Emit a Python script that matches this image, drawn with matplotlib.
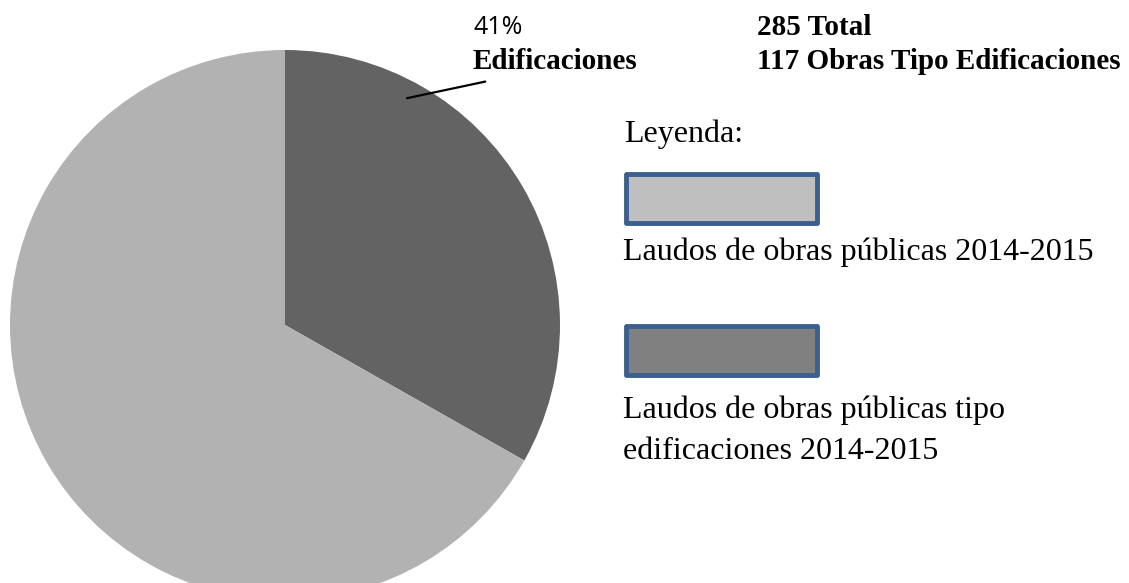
import numpy as np
import matplotlib
matplotlib.use("Agg")
import matplotlib.pyplot as plt
from matplotlib.patches import Rectangle

# texts
total_obras = 285
obras_edificaciones = 117
pct_label = "41%"
# wedge shares as drawn in the picture (edificaciones, resto)
wedge_shares = [33.2, 66.8]
wedge_colors = ["#636363", "#b2b2b2"]

legend_labels = [["Laudos de obras públicas 2014-2015"],
                 ["Laudos de obras públicas tipo", "edificaciones 2014-2015"]]
legend_colors = ["#bfbfbf", "#808080"]

W, H = 1129, 583
fig = plt.figure(figsize=(W / 100, H / 100), dpi=100)

# pie: center (285, 325) px, radius 275 px
cx, cy, r = 285, 325, 275
ax = fig.add_axes([(cx - r) / W, (H - cy - r) / H, 2 * r / W, 2 * r / H])
ax.pie(wedge_shares, colors=wedge_colors, startangle=90, counterclock=False,
       radius=1, wedgeprops=dict(linewidth=0))
ax.set_xlim(-1, 1)
ax.set_ylim(-1, 1)
ax.set_aspect("equal")
ax.axis("off")

# overlay in pixel coords for texts and legend boxes
ov = fig.add_axes([0, 0, 1, 1], facecolor="none")
ov.set_xlim(0, W)
ov.set_ylim(H, 0)
ov.axis("off")

serif = "Liberation Serif"
fs = 23
fsb = 21

# leader line from the dark wedge to its label
ang = np.deg2rad(62.2)
ax.annotate("", xy=(0.93 * np.cos(ang), 0.93 * np.sin(ang)), xycoords="data",
            xytext=(488, 81), textcoords=ov.transData,
            arrowprops=dict(arrowstyle="-", color="black", lw=1.6))

ov.text(473, 34, pct_label, family="Open Sans", fontsize=18, va="baseline")
ov.text(473, 69, "Edificaciones", family=serif, fontweight="bold", fontsize=fsb, va="baseline")
ov.text(757, 35, f"{total_obras} Total", family=serif, fontweight="bold", fontsize=fsb, va="baseline")
ov.text(757, 69, f"{obras_edificaciones} Obras Tipo Edificaciones", family=serif,
        fontweight="bold", fontsize=fsb, va="baseline")

ov.text(624, 142, "Leyenda:", family=serif, fontsize=fs, va="baseline")

box_tops = [172, 324]
text_base = [260, 418]
for lines, col, top, tb in zip(legend_labels, legend_colors, box_tops, text_base):
    ov.add_patch(Rectangle((626, top + 2), 191, 49, facecolor=col,
                           edgecolor="#3b5f8e", linewidth=3.5, joinstyle="round"))
    for i, line in enumerate(lines):
        ov.text(623, tb + 41 * i, line, family=serif, fontsize=fs, va="baseline")

fig.savefig("out.png", dpi=100)
